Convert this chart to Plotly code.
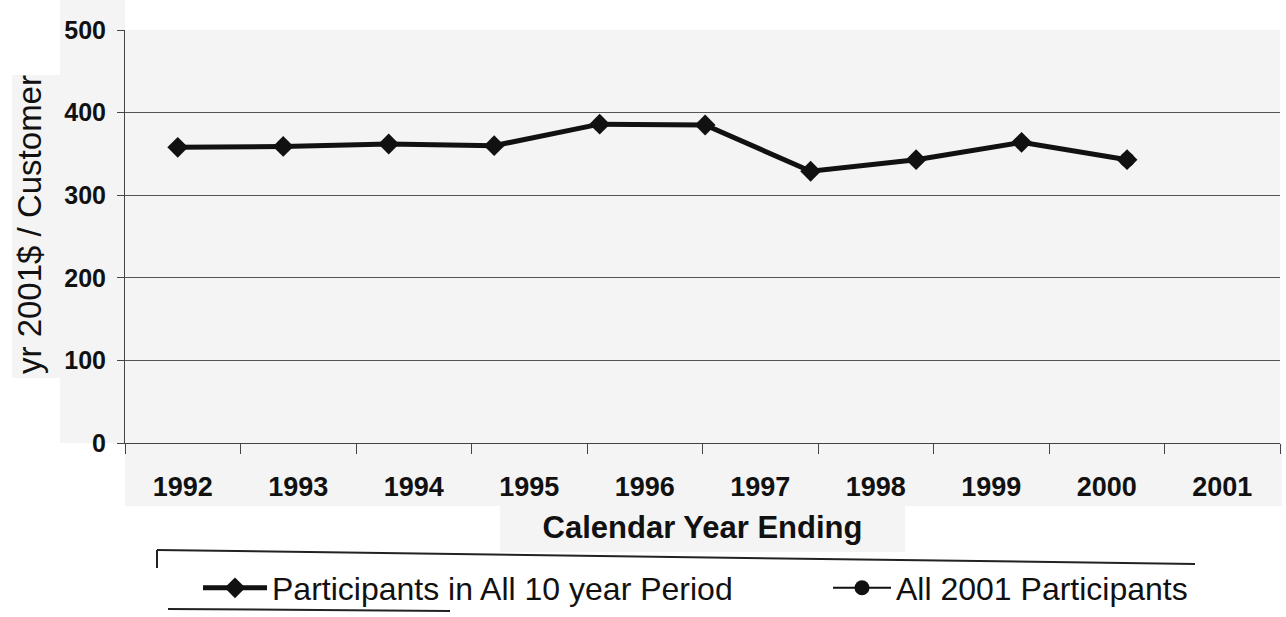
import plotly.graph_objects as go

# Calendar years on the category axis
years = ["1992", "1993", "1994", "1995", "1996", "1997", "1998", "1999", "2000", "2001"]

# Cost per customer (2001 dollars), participants present across all ten years
ten_year_participants = [358, 359, 362, 360, 386, 385, 329, 343, 364, 343]

# All participants active in 2001 (single observation)
all_2001_years = ["2001"]
all_2001_participants = [343]

y_ticks = [0, 100, 200, 300, 400, 500]

FONT = "Liberation Sans, Arial, sans-serif"
INK = "#111111"
PANEL = "#f4f4f4"

# Plot-area geometry in pixels (used for paper-coordinate conversions)
PLOT_L, PLOT_R, PLOT_T, PLOT_B = 125, 1280, 30, 443
W, H = 1286, 617


def px_to_paper_x(px):
    return (px - PLOT_L) / (PLOT_R - PLOT_L)


def px_to_paper_y(py):
    return (PLOT_B - py) / (PLOT_B - PLOT_T)


fig = go.Figure()

fig.add_trace(go.Scatter(
    x=years, y=ten_year_participants,
    name="Participants in All 10 year Period",
    mode="lines+markers",
    line=dict(color=INK, width=5),
    marker=dict(symbol="diamond", size=16, color=INK),
    xaxis="x", yaxis="y",
    legend="legend",
))

fig.add_trace(go.Scatter(
    x=all_2001_years, y=all_2001_participants,
    name="All 2001 Participants",
    mode="lines+markers",
    line=dict(color=INK, width=2),
    marker=dict(symbol="circle", size=15, color=INK),
    xaxis="x", yaxis="y",
    legend="legend2",
))

# Invisible carrier trace so the labelled category axis is drawn
fig.add_trace(go.Scatter(
    x=years, y=ten_year_participants,
    mode="markers", marker=dict(opacity=0),
    showlegend=False, hoverinfo="skip",
    xaxis="x2", yaxis="y",
))

legend_common = dict(
    orientation="h",
    yanchor="middle",
    y=px_to_paper_y(588),
    font=dict(size=32, family=FONT, color=INK),
    bgcolor="rgba(0,0,0,0)",
)

fig.update_layout(
    width=W, height=H,
    margin=dict(l=PLOT_L, r=W - PLOT_R, t=PLOT_T, b=H - PLOT_B, autoexpand=False),
    paper_bgcolor="white",
    plot_bgcolor=PANEL,
    font=dict(family=FONT, color=INK),
    showlegend=True,
    legend=dict(legend_common, x=px_to_paper_x(198), xanchor="left", itemwidth=64),
    legend2=dict(legend_common, x=px_to_paper_x(828), xanchor="left", itemwidth=58),
    xaxis=dict(
        type="category",
        categoryorder="array", categoryarray=years,
        range=[-0.5, 10.45],
        showticklabels=False, ticks="",
        showgrid=False, zeroline=False,
        showline=False,
        automargin=False,
        fixedrange=True,
    ),
    xaxis2=dict(
        type="category",
        categoryorder="array", categoryarray=years,
        range=[-0.5, 9.5],
        overlaying="x", anchor="y", side="bottom",
        showgrid=False, zeroline=False,
        showline=True, linecolor="#444444", linewidth=1,
        ticks="outside", ticklen=10, tickcolor="#444444",
        tickson="boundaries",
        ticklabelstandoff=20,
        automargin=False,
        tickfont=dict(size=27, family=FONT, color=INK, weight="bold"),
        title=dict(text="<b>Calendar Year Ending</b>", font=dict(size=31, family=FONT, color=INK), standoff=14),
        fixedrange=True,
    ),
    yaxis=dict(
        range=[0, 500],
        tickvals=y_ticks,
        ticktext=[str(v) for v in y_ticks],
        showgrid=True, gridcolor="#555555", gridwidth=1,
        zeroline=False,
        showline=True, linecolor="#444444", linewidth=1,
        ticks="outside", ticklen=7, tickcolor="#444444",
        ticklabelstandoff=6,
        automargin=False,
        tickfont=dict(size=25, family=FONT, color=INK, weight="bold"),
        fixedrange=True,
    ),
)

# Vertical axis caption
fig.add_annotation(
    text="yr 2001$ / Customer",
    xref="paper", yref="paper",
    x=px_to_paper_x(29), y=px_to_paper_y(225),
    xanchor="center", yanchor="middle",
    textangle=-90, showarrow=False,
    font=dict(size=33, family=FONT, color=INK),
)

# Light panels behind the axis labels
panels = [
    (12, 75, 125, 378),     # vertical caption
    (60, 0, 125, 443),      # value labels
    (125, 443, 1282, 506),  # year labels
    (500, 500, 905, 552),   # horizontal caption
]
for x0, y0, x1, y1 in panels:
    fig.add_shape(type="rect", xref="paper", yref="paper", layer="below",
                  x0=px_to_paper_x(x0), x1=px_to_paper_x(x1),
                  y0=px_to_paper_y(y1), y1=px_to_paper_y(y0),
                  fillcolor=PANEL, line=dict(width=0))

# Legend frame strokes
frame_color = "#222222"
fig.add_shape(type="line", xref="paper", yref="paper",
              x0=px_to_paper_x(157), x1=px_to_paper_x(1195),
              y0=px_to_paper_y(550), y1=px_to_paper_y(564),
              line=dict(color=frame_color, width=2))
fig.add_shape(type="line", xref="paper", yref="paper",
              x0=px_to_paper_x(157), x1=px_to_paper_x(157),
              y0=px_to_paper_y(550), y1=px_to_paper_y(568),
              line=dict(color=frame_color, width=2))
fig.add_shape(type="line", xref="paper", yref="paper",
              x0=px_to_paper_x(168), x1=px_to_paper_x(450),
              y0=px_to_paper_y(609), y1=px_to_paper_y(611),
              line=dict(color=frame_color, width=2))

fig.write_html("out.html")
